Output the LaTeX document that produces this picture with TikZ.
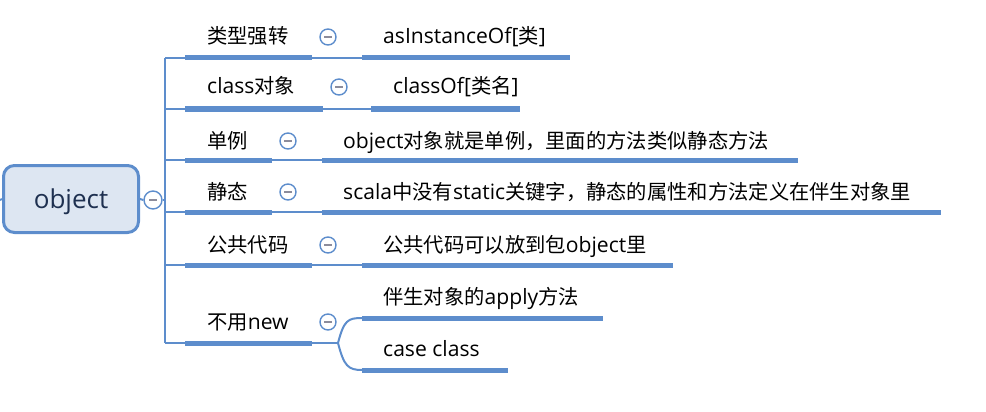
\documentclass[tikz,border=0pt]{standalone}
\usepackage{fontspec}
\setmainfont{Open Sans}[Scale=1.04]
\newfontfamily\cjk{Noto Sans CJK SC}
\newcommand\zh[1]{{\cjk #1}}
\definecolor{lineblue}{RGB}{93,141,204}
\definecolor{rootfill}{RGB}{221,230,242}
\definecolor{roottext}{RGB}{30,48,80}
\definecolor{minusgray}{RGB}{140,140,155}
\begin{document}
\begin{tikzpicture}[x=1pt,y=-1pt,
  lbl/.style={anchor=base west,inner sep=0pt,font=\fontsize{20.3}{22}\selectfont},
  thinln/.style={line width=2pt,draw=lineblue},
  thickln/.style={line width=5pt,draw=lineblue},
  tog/.style={circle,draw=lineblue,line width=1.4pt,fill=white,minimum size=16pt,inner sep=0pt,
    path picture={\draw[minusgray,line width=1.3pt] ([xshift=-4pt]path picture bounding box.center) -- ([xshift=4pt]path picture bounding box.center);}},
  rootbox/.style={draw=lineblue,line width=3pt,fill=rootfill,rounded corners=11pt,minimum width=135pt,minimum height=67pt,inner sep=0pt,text=roottext,text height=19pt,text depth=0pt,font=\fontsize{25}{28}\selectfont}]
\useasboundingbox (0,0) rectangle (986,412);

% root
\coordinate (lft) at (0,200);
\node[rootbox] (root) at (71,199) {object};
\draw[thinln] (lft) -- (root.west);
\node[tog,minimum size=18pt] (rtog) at (153,200) {};
\draw[thinln] (root.east) -- (rtog.west);
\coordinate (trtop) at (165,58);
\coordinate (trbot) at (165,343);
\draw[thinln] (trtop) -- (trbot);
\draw[thinln] (rtog.east) -- (rtog.east -| trtop);

% branch 1
\coordinate (b1s) at (165,58); \coordinate (b1a) at (185,58); \coordinate (b1b) at (312,58);
\coordinate (c1a) at (362,58); \coordinate (c1b) at (570,58);
\draw[thinln] (b1s) -- (b1a) (b1b) -- (c1a);
\draw[thickln] (b1a) -- (b1b); \draw[thickln] (c1a) -- (c1b);
\node[lbl] (t1) at (207,44) {\zh{类型强转}};
\node[tog] (g1) at (328,37) {};
\node[lbl] (s1) at (383,44) {asInstanceOf[\zh{类}]};

% branch 2
\coordinate (b2s) at (165,109); \coordinate (b2a) at (185,109); \coordinate (b2b) at (323,109);
\coordinate (c2a) at (371,109); \coordinate (c2b) at (520,109);
\draw[thinln] (b2s) -- (b2a) (b2b) -- (c2a);
\draw[thickln] (b2a) -- (b2b); \draw[thickln] (c2a) -- (c2b);
\node[lbl] (t2) at (207,94) {class\zh{对象}};
\node[tog] (g2) at (339,87) {};
\node[lbl] (s2) at (393,94) {classOf[\zh{类名}]};

% branch 3
\coordinate (b3s) at (165,160); \coordinate (b3a) at (185,160); \coordinate (b3b) at (272,160);
\coordinate (c3a) at (322,160); \coordinate (c3b) at (798,160);
\draw[thinln] (b3s) -- (b3a) (b3b) -- (c3a);
\draw[thickln] (b3a) -- (b3b); \draw[thickln] (c3a) -- (c3b);
\node[lbl] (t3) at (207,148) {\zh{单例}};
\node[tog] (g3) at (288,141) {};
\node[lbl] (s3) at (343,148) {object\zh{对象就是单例，里面的方法类似静态方法}};

% branch 4
\coordinate (b4s) at (165,212); \coordinate (b4a) at (185,212); \coordinate (b4b) at (272,212);
\coordinate (c4a) at (322,212); \coordinate (c4b) at (941,212);
\draw[thinln] (b4s) -- (b4a) (b4b) -- (c4a);
\draw[thickln] (b4a) -- (b4b); \draw[thickln] (c4a) -- (c4b);
\node[lbl] (t4) at (207,199) {\zh{静态}};
\node[tog] (g4) at (288,192) {};
\node[lbl] (s4) at (343,199) {scala\zh{中没有}static\zh{关键字，静态的属性和方法定义在伴生对象里}};

% branch 5
\coordinate (b5s) at (165,265); \coordinate (b5a) at (185,265); \coordinate (b5b) at (312,265);
\coordinate (c5a) at (362,265); \coordinate (c5b) at (673,265);
\draw[thinln] (b5s) -- (b5a) (b5b) -- (c5a);
\draw[thickln] (b5a) -- (b5b); \draw[thickln] (c5a) -- (c5b);
\node[lbl] (t5) at (207,252) {\zh{公共代码}};
\node[tog] (g5) at (328,245) {};
\node[lbl] (s5) at (383,252) {\zh{公共代码可以放到包}object\zh{里}};

% branch 6
\coordinate (b6s) at (165,343); \coordinate (b6a) at (185,343); \coordinate (b6b) at (312,343);
\coordinate (fork) at (338,343);
\coordinate (d1a) at (362,318); \coordinate (d1b) at (603,318);
\coordinate (d2a) at (362,370); \coordinate (d2b) at (508,370);
\draw[thinln] (b6s) -- (b6a) (b6b) -- (fork);
\draw[thickln] (b6a) -- (b6b);
\draw[thinln] (fork) .. controls (344,320) and (348,318) .. (d1a);
\draw[thinln] (fork) .. controls (344,366) and (348,370) .. (d2a);
\draw[thickln] (d1a) -- (d1b); \draw[thickln] (d2a) -- (d2b);
\node[lbl] (t6) at (207,329) {\zh{不用}new};
\node[tog] (g6) at (328,322) {};
\node[lbl] (s6) at (383,304) {\zh{伴生对象的}apply\zh{方法}};
\node[lbl] (s7) at (383,356) {case class};
\end{tikzpicture}
\end{document}
